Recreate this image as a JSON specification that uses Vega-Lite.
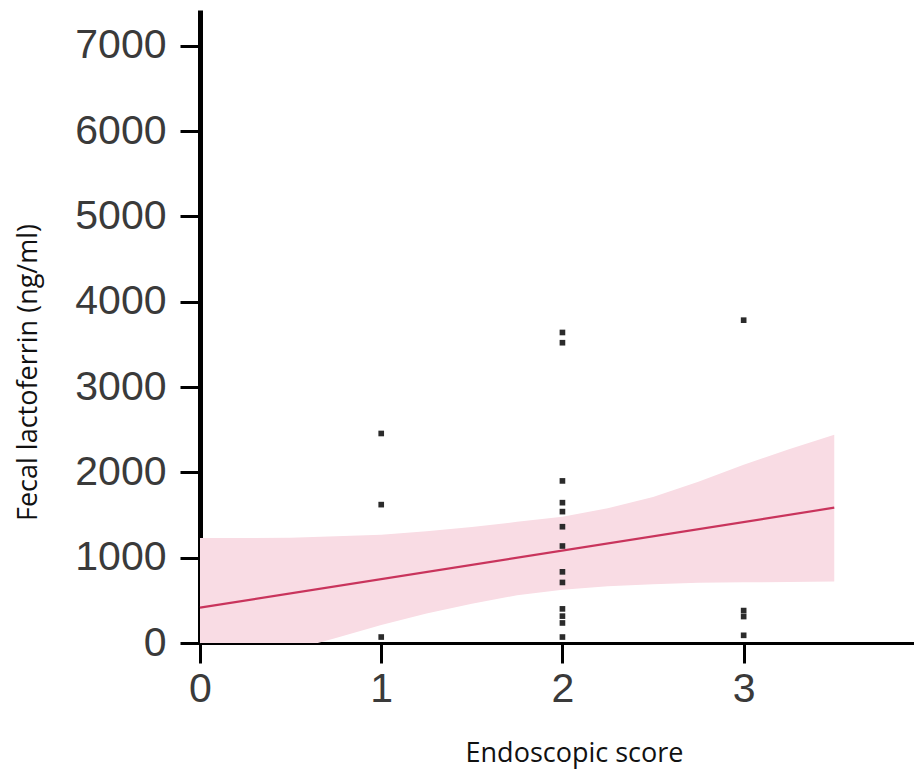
{
  "$schema": "https://vega.github.io/schema/vega-lite/v6.json",
  "width": 714,
  "height": 633,
  "autosize": "none",
  "padding": {"left": 200, "top": 10, "right": 0, "bottom": 128},
  "background": "white",
  "config": {"view": {"stroke": null}},
  "datasets": {
    "band": [
      {"score": 0, "lo": -400, "hi": 1230},
      {"score": 0.25, "lo": -240, "hi": 1230},
      {"score": 0.5, "lo": -90, "hi": 1235},
      {"score": 0.75, "lo": 60, "hi": 1250},
      {"score": 1.0, "lo": 210, "hi": 1270},
      {"score": 1.25, "lo": 345, "hi": 1310},
      {"score": 1.5, "lo": 460, "hi": 1360},
      {"score": 1.75, "lo": 560, "hi": 1420},
      {"score": 2.0, "lo": 625, "hi": 1480},
      {"score": 2.25, "lo": 665, "hi": 1580},
      {"score": 2.5, "lo": 690, "hi": 1710},
      {"score": 2.75, "lo": 705, "hi": 1890},
      {"score": 3.0, "lo": 712, "hi": 2090},
      {"score": 3.25, "lo": 715, "hi": 2270},
      {"score": 3.5, "lo": 720, "hi": 2440}
    ],
    "fit": [
      {"score": 0, "value": 415},
      {"score": 3.5, "value": 1586}
    ],
    "points": [
      {"score": 1, "value": 2456},
      {"score": 1, "value": 1622},
      {"score": 1, "value": 70},
      {"score": 2, "value": 3640},
      {"score": 2, "value": 3520},
      {"score": 2, "value": 1900},
      {"score": 2, "value": 1645},
      {"score": 2, "value": 1540},
      {"score": 2, "value": 1363},
      {"score": 2, "value": 1137},
      {"score": 2, "value": 834},
      {"score": 2, "value": 710},
      {"score": 2, "value": 400},
      {"score": 2, "value": 315},
      {"score": 2, "value": 235},
      {"score": 2, "value": 70},
      {"score": 3, "value": 3784},
      {"score": 3, "value": 380},
      {"score": 3, "value": 310},
      {"score": 3, "value": 90}
    ]
  },
  "layer": [
    {
      "data": {"name": "band"},
      "mark": {"type": "area", "color": "#f9dce4", "opacity": 1, "clip": true},
      "encoding": {
        "x": {
          "field": "score", "type": "quantitative",
          "scale": {"domain": [0, 3.94], "nice": false, "zero": false},
          "axis": {
            "title": "Endoscopic score",
            "values": [0, 1, 2, 3],
            "format": "d",
            "grid": false,
            "labelFlush": false,
            "domainColor": "black", "domainWidth": 3,
            "tickColor": "black", "tickWidth": 3, "tickSize": 20,
            "labelFont": "Liberation Sans", "labelFontSize": 41, "labelColor": "#3a3a3a",
            "labelPadding": 6,
            "titleFont": "Open Sans", "titleFontSize": 27, "titleFontWeight": "normal", "titleColor": "#111",
            "titleX": 374, "titleY": 110, "titleAlign": "center", "titleBaseline": "middle"
          }
        },
        "y": {
          "field": "lo", "type": "quantitative",
          "scale": {"domain": [0, 7420], "nice": false},
          "axis": {
            "title": "Fecal lactoferrin (ng/ml)",
            "values": [0, 1000, 2000, 3000, 4000, 5000, 6000, 7000],
            "format": "d",
            "grid": false,
            "labelFlush": false,
            "domainColor": "black", "domainWidth": 5,
            "tickColor": "black", "tickWidth": 3, "tickSize": 20,
            "labelFont": "Liberation Sans", "labelFontSize": 41, "labelColor": "#3a3a3a",
            "labelPadding": 14,
            "titleFont": "Open Sans", "titleFontSize": 27, "titleFontWeight": "normal", "titleColor": "#111",
            "titleAngle": -90, "titleX": -172, "titleY": 362, "titleAlign": "center", "titleBaseline": "middle"
          }
        },
        "y2": {"field": "hi"}
      }
    },
    {
      "data": {"name": "fit"},
      "mark": {"type": "line", "color": "#c9345c", "strokeWidth": 2.2},
      "encoding": {
        "x": {"field": "score", "type": "quantitative"},
        "y": {"field": "value", "type": "quantitative"}
      }
    },
    {
      "data": {"name": "points"},
      "mark": {"type": "point", "shape": "square", "filled": true, "size": 32, "color": "#2b2b2b", "opacity": 1},
      "encoding": {
        "x": {"field": "score", "type": "quantitative"},
        "y": {"field": "value", "type": "quantitative"}
      }
    }
  ]
}
